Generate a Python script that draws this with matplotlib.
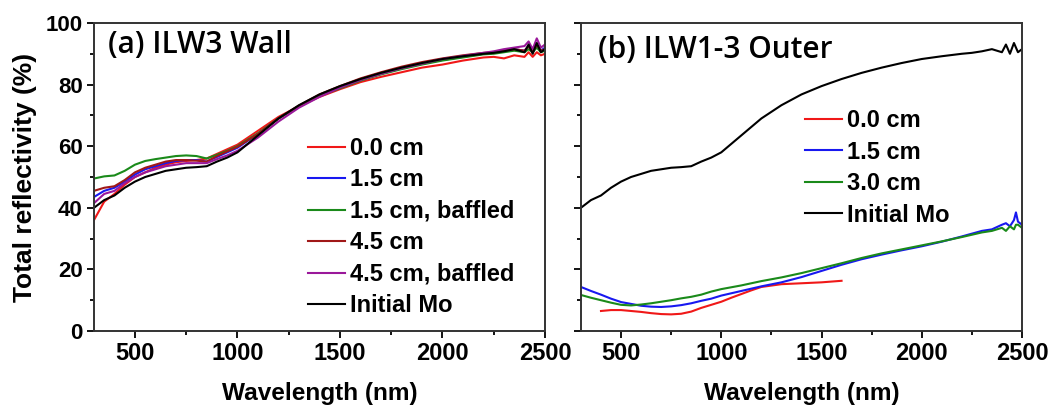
import matplotlib
matplotlib.use("Agg")
import matplotlib.pyplot as plt
from matplotlib.ticker import MultipleLocator

plt.rcParams['font.family'] = ['Liberation Sans', 'DejaVu Sans']

# ---- panel (a) ILW3 Wall ----
wl_a = [300, 350, 400, 450, 500, 550, 600, 650, 700, 750, 800, 850, 900, 950, 1000,
        1100, 1200, 1300, 1400, 1500, 1600, 1700, 1800, 1900, 2000, 2100, 2200,
        2250, 2300, 2350, 2400, 2420, 2440, 2460, 2480, 2500]
a_00 = [36, 42, 44.5, 47.5, 50, 51.5, 53, 54, 54.8, 55.2, 55.5, 56, 57.5, 59, 60.5,
        65, 69.5, 73, 76, 78.5, 80.8, 82.5, 84, 85.5, 86.5, 87.8, 88.8,
        89, 88.5, 89.5, 89, 90.5, 89, 90.5, 89.5, 90]
a_15 = [43.5, 45.5, 46.5, 48.5, 50.8, 52.5, 53.5, 54.5, 55.2, 55.5, 55.5, 55, 56.5, 58, 59.5,
        64, 69, 73, 76.5, 79, 81.5, 83.5, 85.3, 86.8, 88, 89, 90,
        90.3, 91, 91.5, 91, 92.5, 91, 93, 91, 92]
a_15b = [49.5, 50.2, 50.5, 52, 54, 55.2, 55.8, 56.3, 56.8, 57, 56.8, 56, 57.2, 58.5, 60,
         64.2, 69, 73, 76.3, 78.8, 81.3, 83.3, 85, 86.5, 87.8, 88.8, 89.8,
         90, 90.5, 91, 90.5, 91.5, 90.5, 92, 90.5, 91]
a_45 = [45.5, 46.5, 47, 49, 51.5, 53, 54, 55, 55.5, 55.5, 55.3, 55, 56.8, 58.3, 59.8,
        64, 69, 73.2, 76.8, 79.5, 82, 84, 85.8, 87.3, 88.5, 89.5, 90.3,
        90.5, 91, 91.5, 91, 92.5, 90.5, 93, 91, 91.5]
a_45b = [41.5, 44.5, 45.5, 48, 50, 51.5, 52.5, 53.5, 54, 54.5, 54.5, 54.5, 55.8, 57, 58.5,
         62.8, 68, 72.5, 76, 79, 81.5, 83.5, 85.3, 86.8, 88.3, 89.3, 90.3,
         90.8, 91.5, 92, 92.5, 94, 91.5, 95, 92, 93]
mo_init = [40, 42.5, 44, 46.5, 48.5, 50, 51, 52, 52.5, 53, 53.2, 53.5, 55, 56.3, 58,
           63.5, 69, 73.3, 76.8, 79.5, 81.8, 83.8, 85.5, 87, 88.3, 89.2, 90,
           90.3, 90.8, 91.5, 90.5, 93, 90, 93.5, 90.5, 91.5]

# ---- panel (b) ILW1-3 Outer ----
wl_b0 = [400, 450, 500, 550, 600, 650, 700, 750, 800, 850, 900, 950, 1000, 1050,
         1100, 1150, 1200, 1300, 1400, 1500, 1600]
b_00 = [6.5, 6.8, 6.8, 6.5, 6.2, 5.8, 5.5, 5.4, 5.6, 6.3, 7.5, 8.5, 9.5, 10.8,
        12, 13.2, 14.3, 15.2, 15.5, 15.8, 16.3]
wl_b = [300, 350, 400, 450, 500, 550, 600, 650, 700, 750, 800, 850, 900, 950, 1000,
        1100, 1200, 1300, 1400, 1500, 1600, 1700, 1800, 1900, 2000, 2100, 2200,
        2300, 2350, 2400, 2420, 2440, 2460, 2470, 2480, 2500]
b_15 = [14.3, 13, 11.8, 10.5, 9.4, 8.8, 8.2, 7.9, 7.8, 8, 8.4, 9, 9.8, 10.5, 11.5,
        13, 14.5, 15.8, 17.5, 19.5, 21.5, 23.3, 24.8, 26.2, 27.5, 29, 30.7,
        32.5, 33, 34.5, 35, 34, 36, 38.5, 35.5, 34.5]
b_30 = [11.7, 10.8, 10, 9.2, 8.5, 8.3, 8.6, 9, 9.5, 10, 10.6, 11.1, 11.8, 12.8, 13.6,
        14.8, 16.2, 17.4, 18.8, 20.4, 22, 23.7, 25.2, 26.5, 27.8, 29.1, 30.5,
        32, 32.5, 33.5, 32.5, 34, 33, 34.5, 34.5, 33.5]

labels_a = ['0.0 cm', '1.5 cm', '1.5 cm, baffled', '4.5 cm', '4.5 cm, baffled', 'Initial Mo']
labels_b = ['0.0 cm', '1.5 cm', '3.0 cm', 'Initial Mo']

c_red, c_blue, c_green, c_dred, c_purp = '#f01818', '#1818f0', '#1a8a1a', '#a01818', '#9a189a'

fig = plt.figure(figsize=(10.64, 4.08), dpi=100)
ax1 = fig.add_axes([0.0883, 0.1887, 0.4239, 0.755])
ax2 = fig.add_axes([0.546, 0.1887, 0.4145, 0.755])

lw = 1.5
ax1.plot(wl_a, a_00, color=c_red, lw=lw, label=labels_a[0])
ax1.plot(wl_a, a_15, color=c_blue, lw=lw, label=labels_a[1])
ax1.plot(wl_a, a_15b, color=c_green, lw=lw, label=labels_a[2])
ax1.plot(wl_a, a_45, color=c_dred, lw=lw, label=labels_a[3])
ax1.plot(wl_a, a_45b, color=c_purp, lw=lw, label=labels_a[4])
ax1.plot(wl_a, mo_init, color='black', lw=lw, label=labels_a[5])

ax2.plot(wl_b0, b_00, color=c_red, lw=lw, label=labels_b[0])
ax2.plot(wl_b, b_15, color=c_blue, lw=lw, label=labels_b[1])
ax2.plot(wl_b, b_30, color=c_green, lw=lw, label=labels_b[2])
ax2.plot(wl_a, mo_init, color='black', lw=lw, label=labels_b[3])

for ax in (ax1, ax2):
    ax.set_xlim(300, 2500)
    ax.set_ylim(0, 100)
    ax.xaxis.set_major_locator(MultipleLocator(500))
    ax.xaxis.set_minor_locator(MultipleLocator(250))
    ax.yaxis.set_major_locator(MultipleLocator(20))
    ax.yaxis.set_minor_locator(MultipleLocator(10))
    ax.tick_params(which='both', direction='out', top=False, right=False, width=1.3)
    ax.tick_params(which='major', length=5, pad=3)
    ax.tick_params(axis='x', labelsize=17)
    ax.tick_params(axis='y', labelsize=16)
    ax.tick_params(which='minor', length=3)
    for s in ax.spines.values():
        s.set_linewidth(1.4)
        s.set_color('#333333')
    for t in ax.get_xticklabels() + ax.get_yticklabels():
        t.set_fontweight('bold')
    ax.set_xlabel('Wavelength (nm)', fontsize=17.6, fontweight='bold', labelpad=12)

ax1.set_ylabel('Total reflectivity (%)', fontsize=19, fontweight='bold', labelpad=6)
ax2.tick_params(axis='y', labelleft=False)

ax1.text(0.031, 0.929, '(a) ILW3 Wall', transform=ax1.transAxes, fontsize=21.5,
         fontfamily='Open Sans', fontweight='semibold', va='center', ha='left')
ax2.text(0.039, 0.912, '(b) ILW1-3 Outer', transform=ax2.transAxes, fontsize=21.5,
         fontfamily='Open Sans', fontweight='semibold', va='center', ha='left')

leg_kw = dict(frameon=False, loc='upper left', borderpad=0, borderaxespad=0,
              handlelength=1.57, handletextpad=0.2, labelspacing=0.36,
              prop={'weight': 'bold', 'size': 17})
ax1.legend(bbox_to_anchor=(0.474, 0.63), **leg_kw)
ax2.legend(bbox_to_anchor=(0.508, 0.72), **leg_kw)

fig.savefig('out.png', dpi=100)
